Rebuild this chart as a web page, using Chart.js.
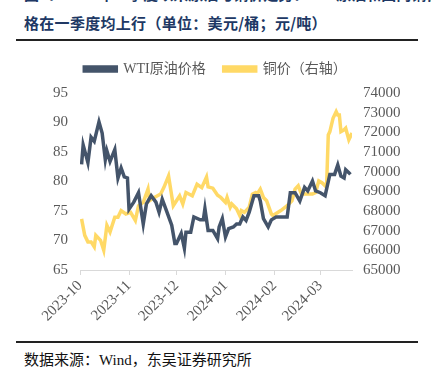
<!DOCTYPE html>
<html>
<head>
<meta charset="utf-8">
<script src="https://cdn.jsdelivr.net/npm/chart.js@4"></script>
<style>
  html, body { margin: 0; padding: 0; background: #fff; }
  body { width: 431px; height: 369px; position: relative; overflow: hidden; }
  .cut { position: absolute; left: 24px; top: -17px; font: bold 15px "Noto Sans CJK SC", sans-serif; color: #203864; white-space: nowrap; }
  .title { position: absolute; left: 24px; top: 12px; font: bold 15px "Noto Sans CJK SC", sans-serif; color: #203864; white-space: nowrap; letter-spacing: 0.3px; }
  .rule { position: absolute; left: 16px; width: 402px; height: 2px; background: #222; }
  .source { position: absolute; left: 24px; top: 348px; font: 15px "Liberation Serif", "Noto Sans CJK SC", serif; color: #111; white-space: nowrap; }
  #wrap { position: absolute; left: 0; top: 44px; width: 431px; height: 296px; }
</style>
</head>
<body>
<div class="cut">图2：2024年一季度以来原油与铜价走势：WTI原油和国内铜价</div>
<div class="title">格在一季度均上行（单位：美元/桶；元/吨）</div>
<div class="rule" style="top:39px"></div>
<div id="wrap"><canvas id="c"></canvas></div>
<div class="rule" style="top:341px"></div>
<div class="source">数据来源：Wind，东吴证券研究所</div>
<script>
// days counted from 2023-10-01
const monthDays = [0, 31, 61, 92, 123, 152];
const monthLabels = ['2023-10', '2023-11', '2023-12', '2024-01', '2024-02', '2024-03'];

const wtiDays = [1, 2, 5, 7, 9, 12, 14, 16, 17, 19, 22, 24, 26, 28, 30, 31, 34, 37, 40, 42,
  45, 48, 50, 52, 55, 58, 60, 61, 64, 66, 67, 70, 72, 76, 78, 79, 81, 84, 87, 88,
  90, 92, 94, 97, 99, 101, 103, 105, 107, 110, 113, 114, 116, 119, 121, 124, 131, 133, 136, 139,
  142, 144, 147, 149, 152, 155, 158, 161, 163, 165, 167, 168, 170, 171];
const wtiPrice = [82.9, 86.2, 83.2, 87.5, 86.8, 90.1, 88.2, 83.7, 85.2, 83.4, 85.4, 80.6, 82.3, 80.8, 80.6, 75.3, 76.5, 78.1, 72.8, 76.2,
  77.6, 76.5, 74.8, 77.0, 74.8, 72.6, 69.5, 69.5, 71.2, 68.7, 71.4, 71.4, 74.0, 73.5, 73.5, 75.4, 71.7, 71.7, 70.3, 72.3,
  73.7, 70.6, 72.0, 72.3, 72.8, 72.8, 74.0, 73.4, 74.8, 77.6, 77.6, 76.7, 73.7, 72.3, 73.5, 74.0, 74.0, 78.1, 78.1, 76.7,
  79.0, 78.4, 80.1, 78.4, 78.1, 77.6, 81.2, 81.2, 82.8, 80.9, 80.6, 82.0, 81.5, 81.2];

const cuDays = [1, 3, 5, 7, 9, 10, 13, 15, 17, 19, 22, 24, 26, 29, 32, 35, 37, 40, 43, 44,
  47, 51, 53, 56, 59, 61, 63, 65, 67, 71, 74, 77, 80, 81, 84, 87, 89, 92, 93, 95,
  96, 99, 101, 102, 104, 107, 109, 111, 112, 114, 116, 118, 121, 122, 127, 131, 134, 136, 138, 140,
  143, 147, 149, 151, 153, 155, 156, 157, 158, 160, 162, 163, 164, 165, 167, 168, 170, 172];
const cuPrice = [67600, 66760, 66430, 66430, 66180, 66760, 66510, 66010, 67270, 66930, 67680, 67680, 68020, 67850, 67930, 67520, 68270, 68440, 69110, 68520,
  68690, 68860, 69190, 69780, 68270, 68520, 68770, 68360, 68940, 68770, 69360, 69190, 69730, 69230, 69160, 68800, 68690, 68440, 68690, 68190,
  68360, 68110, 67770, 68020, 67930, 68190, 68860, 68940, 68860, 69110, 68690, 68520, 67850, 67770, 68020, 68270, 68520, 69110, 69280, 68860,
  68860, 68860, 68940, 69530, 69440, 69280, 69440, 71870, 72040, 72710, 73050, 72880, 72880, 72040, 72130, 72210, 71620, 71960];

const NAVY = '#44546A';
const GOLD = '#FFD966';
const tickFont = { family: '"Liberation Serif", "Noto Sans CJK SC", serif', size: 15 };

// a bit of extra room under the legend
const legendGap = {
  id: 'legendGap',
  beforeInit(chart) {
    const fit = chart.legend.fit;
    chart.legend.fit = function () {
      fit.bind(chart.legend)();
      this.height += 7;
    };
  }
};

new Chart(document.getElementById('c'), {
  type: 'line',
  data: {
    datasets: [{
      label: 'WTI原油价格',
      data: wtiDays.map((d, i) => ({ x: d, y: wtiPrice[i] })),
      borderColor: NAVY,
      backgroundColor: NAVY,
      borderWidth: 3.5,
      pointRadius: 0,
      tension: 0,
      yAxisID: 'y',
      order: 1
    }, {
      label: '铜价（右轴）',
      data: cuDays.map((d, i) => ({ x: d, y: cuPrice[i] })),
      borderColor: GOLD,
      backgroundColor: GOLD,
      borderWidth: 3.5,
      pointRadius: 0,
      tension: 0,
      yAxisID: 'y1',
      order: 2
    }]
  },
  plugins: [legendGap],
  options: {
    responsive: true,
    maintainAspectRatio: false,
    animation: false,
    layout: { padding: 0 },
    plugins: {
      legend: {
        display: true,
        labels: {
          boxWidth: 32,
          boxHeight: 4,
          padding: 18,
          color: '#595959',
          font: { family: tickFont.family, size: 14 }
        }
      },
      tooltip: { enabled: false }
    },
    scales: {
      x: {
        type: 'linear',
        min: 0,
        max: 172,
        afterBuildTicks: (scale) => { scale.ticks = monthDays.map(v => ({ value: v })); },
        afterFit: (scale) => { scale.height = 70; },
        grid: { display: true, drawOnChartArea: false, tickLength: 5, color: '#d9d9d9' },
        border: { display: true, color: '#d9d9d9' },
        ticks: {
          minRotation: 45,
          maxRotation: 45,
          padding: 2,
          color: '#595959',
          font: tickFont,
          callback: (v) => monthLabels[monthDays.indexOf(v)]
        }
      },
      y: {
        position: 'left',
        min: 65,
        max: 95,
        afterFit: (scale) => { scale.width = 80; },
        grid: { display: false, drawTicks: false },
        border: { display: false },
        ticks: { stepSize: 5, autoSkip: false, padding: 12, color: '#595959', font: tickFont }
      },
      y1: {
        position: 'right',
        min: 65000,
        max: 74000,
        afterFit: (scale) => { scale.width = 79; },
        grid: { display: false, drawTicks: false },
        border: { display: false },
        ticks: { stepSize: 1000, autoSkip: false, padding: 11, color: '#595959', font: tickFont, callback: (v) => String(v) }
      }
    }
  }
});
</script>
</body>
</html>
